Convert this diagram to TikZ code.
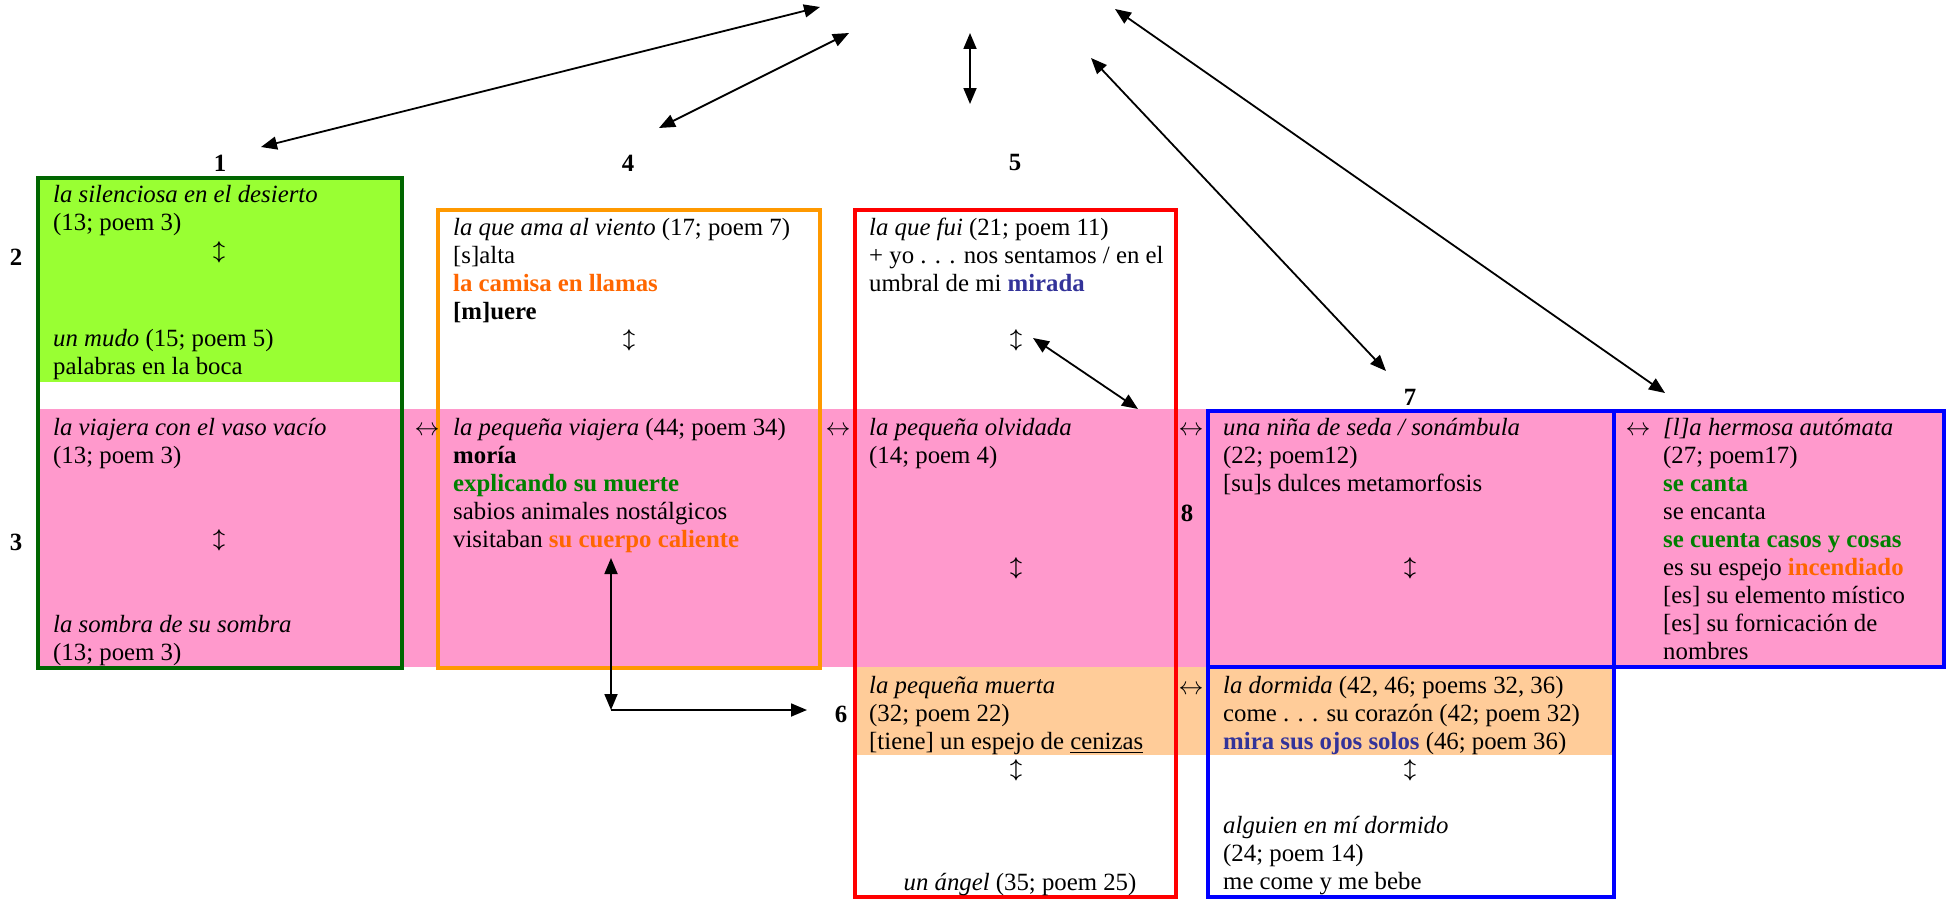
\documentclass[tikz,border=0pt]{standalone}
\usepackage{amsmath}
\usepackage{fontspec}
\setmainfont{Liberation Serif}
\usetikzlibrary{arrows.meta}
\definecolor{gfill}{HTML}{99FF33}
\definecolor{gdark}{HTML}{006600}
\definecolor{pinkband}{HTML}{FF99CC}
\definecolor{peach}{HTML}{FFCC99}
\definecolor{orangeb}{HTML}{FF9900}
\definecolor{otext}{HTML}{FF6600}
\definecolor{gtext}{HTML}{008000}
\definecolor{btext}{HTML}{333399}
\newcommand{\vud}{$\boldsymbol{\updownarrow}$}
\begin{document}
\begin{tikzpicture}[x=1pt,y=-1pt,
  txt/.style={anchor=base west, inner sep=0pt, align=left, font=\fontsize{24.8}{28}\selectfont},
  ctxt/.style={anchor=base, inner sep=0pt, font=\fontsize{24.8}{28}\selectfont},
  sym/.style={inner sep=0pt, font=\fontsize{22}{28}\selectfont},
  num/.style={inner sep=0pt, font=\fontsize{24.8}{28}\selectfont\bfseries},
  link/.style={{Triangle[length=16pt,width=13pt]}-{Triangle[length=16pt,width=13pt]}, line width=1.8pt},
  oneway/.style={-{Triangle[length=16pt,width=13pt]}, line width=1.8pt},
  frame/.style={line width=4pt}
]
\useasboundingbox (0,0) rectangle (1952,899);
% backgrounds
\fill[gfill] (38,178) rectangle (402,382);
\fill[pinkband] (38,409) rectangle (1944,667);
\fill[peach] (855,667) rectangle (1614,755);
% frames
\draw[frame, gdark, line width=4.5pt] (38,178) rectangle (402,668);
\draw[frame, orangeb] (438,210) rectangle (820,668);
\draw[frame, red] (855,210) rectangle (1176,897);
\draw[frame, blue] (1208,411) rectangle (1614,897);
\draw[frame, blue] (1614,411) rectangle (1944,667);
\draw[frame, blue] (1208,667) -- (1614,667);
% column / row numbers
\node[num] (n1) at (220,163) {1};
\node[num] (n4) at (628,163) {4};
\node[num] (n5) at (1015,163) {5};
\node[num] (n2) at (16,257) {2};
\node[num] (n3) at (16,542) {3};
\node[num] (n6) at (841,714) {6};
\node[num] (n7) at (1410,397) {7};
\node[num] (n8) at (1187,513) {8};
% green column (anchors at the baseline of the last line)
\node[txt] (g1) at (53,230) {\textit{la silenciosa en el desierto}\\(13; poem 3)};
\node[sym] (g1a) at (219,252) {\vud};
\node[txt] (g2) at (53,374) {\textit{un mudo} (15; poem 5)\\palabras en la boca};
\node[txt] (g3) at (53,463) {\textit{la viajera con el vaso vacío}\\(13; poem 3)};
\node[sym] (g3a) at (219,540) {\vud};
\node[txt] (g4) at (53,660) {\textit{la sombra de su sombra}\\(13; poem 3)};
% orange column
\node[txt] (o1) at (453,319) {\textit{la que ama al viento} (17; poem 7)\\{}[s]alta\\\textbf{\color{otext}la camisa en llamas}\\\textbf{[m]uere}};
\node[sym] (o1a) at (629,340) {\vud};
\node[txt] (o2) at (453,547) {\textit{la pequeña viajera} (44; poem 34)\\\textbf{moría}\\\textbf{\color{gtext}explicando su muerte}\\sabios animales nostálgicos\\visitaban \textbf{\color{otext}su cuerpo caliente}};
% red column
\node[txt] (r1) at (869,291) {\textit{la que fui} (21; poem 11)\\+ yo . . . nos sentamos / en el\\umbral de mi \textbf{\color{btext}mirada}};
\node[sym] (r1a) at (1016,340) {\vud};
\node[txt] (r2) at (869,463) {\textit{la pequeña olvidada}\\(14; poem 4)};
\node[sym] (r2a) at (1016,568) {\vud};
\node[txt] (r3) at (869,749) {\textit{la pequeña muerta}\\(32; poem 22)\\{}[tiene] un espejo de \underline{cenizas}};
\node[sym] (r3a) at (1016,770) {\vud};
\node[ctxt] (r4) at (1020,890) {\textit{un ángel} (35; poem 25)};
% blue column 7
\node[txt] (b1) at (1223,491) {\textit{una niña de seda / sonámbula}\\(22; poem12)\\{}[su]s dulces metamorfosis};
\node[sym] (b1a) at (1410,568) {\vud};
\node[txt] (b2) at (1223,749) {\textit{la dormida} (42, 46; poems 32, 36)\\come . . . su corazón (42; poem 32)\\\textbf{\color{btext}mira sus ojos solos} (46; poem 36)};
\node[sym] (b2a) at (1410,770) {\vud};
\node[txt] (b3) at (1223,889) {\textit{alguien en mí dormido}\\(24; poem 14)\\me come y me bebe};
% right blue box
\node[txt] (h1) at (1663,659) {\textit{[l]a hermosa autómata}\\(27; poem17)\\\textbf{\color{gtext}se canta}\\se encanta\\\textbf{\color{gtext}se cuenta casos y cosas}\\es su espejo \textbf{\color{otext}incendiado}\\{}[es] su elemento místico\\{}[es] su fornicación de\\nombres};
% horizontal double arrows (text)
\node[ctxt] (lr1) at (427,435) {$\leftrightarrow$};
\node[ctxt] (lr2) at (838,435) {$\leftrightarrow$};
\node[ctxt] (lr3) at (1191,435) {$\leftrightarrow$};
\node[ctxt] (lr4) at (1191,694) {$\leftrightarrow$};
\node[ctxt] (lr5) at (1638,435) {$\leftrightarrow$};
% connector end points
\coordinate (a1s) at (261,147); \coordinate (a1e) at (820,7);
\coordinate (a2s) at (659,128); \coordinate (a2e) at (849,33);
\coordinate (a3s) at (970,104); \coordinate (a3e) at (970,33);
\coordinate (a4s) at (1386,371); \coordinate (a4e) at (1091,58);
\coordinate (a5s) at (1665,393); \coordinate (a5e) at (1115,9);
\coordinate (a6s) at (1033,338); \coordinate (a6e) at (1138,409);
\coordinate (c7t) at (611,558); \coordinate (c7) at (611,710); \coordinate (c7e) at (807,710);
% connectors
\draw[link] (a1s) -- (a1e);
\draw[link] (a2s) -- (a2e);
\draw[link] (a3s) -- (a3e);
\draw[link] (a4s) -- (a4e);
\draw[link] (a5s) -- (a5e);
\draw[link] (a6s) -- (a6e);
\draw[link] (c7t) -- (c7);
\draw[oneway] (c7) -- (c7e);
\end{tikzpicture}
\end{document}
